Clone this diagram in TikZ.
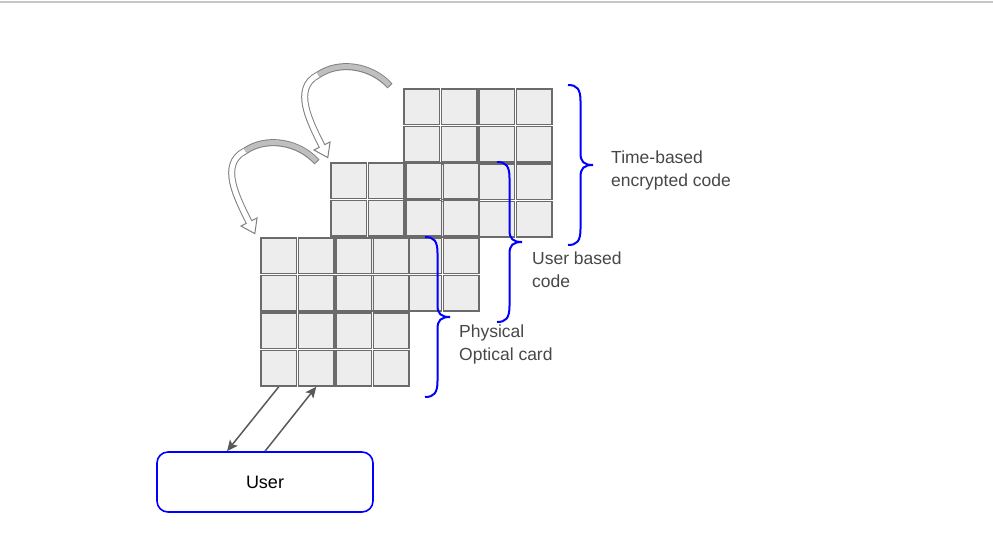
\documentclass[tikz,border=0pt]{standalone}
\usepackage{fontspec}
\setmainfont{Liberation Sans}
\usetikzlibrary{arrows.meta, positioning, calc}

\begin{document}
\begin{tikzpicture}[x=1pt, y=-1pt,
  cell/.style={draw=black!58, line width=1.5pt, fill=black!7, minimum size=35.5pt, inner sep=0pt},
  curly/.style={draw=blue, line width=2pt},
  codetext/.style={align=left, inner sep=0pt, text=black!72, font=\fontsize{17.5}{23}\selectfont},
  userbox/.style={draw=blue, line width=1.6pt, rounded corners=11pt, minimum width=216pt, minimum height=60pt, font=\fontsize{18}{22}\selectfont},
  link/.style={draw=black!65, line width=1.5pt, -{Stealth[length=11pt, width=10pt, inset=2.5pt]}},
  swirl/.style={draw=black!50, line width=7pt},
  swirlin/.style={line width=5pt}]
  \useasboundingbox (0,0) rectangle (993,558);
  \draw[black!22, line width=2pt] (0,1.5) -- (993,1.5);

  % Time-based grid (back)
  \foreach \r in {1,...,4}
    \foreach \c in {1,...,4}
      \node[cell] (t-\r-\c) at ({403+37.5*\c-18.75}, {88+37.5*\r-18.75}) {};

  % User based grid (middle)
  \foreach \r in {1,...,4}
    \foreach \c in {1,...,4}
      \node[cell] (u-\r-\c) at ({330+37.5*\c-18.75}, {162+37.5*\r-18.75}) {};

  % Physical card grid (front)
  \foreach \r in {1,...,4}
    \foreach \c in {1,...,4}
      \node[cell] (p-\r-\c) at ({260+37.5*\c-18.75}, {237+37.5*\r-18.75}) {};

  % Braces
  \foreach \bx/\by in {568/85, 497/162, 425/237}
    \draw[curly, shift={(\bx,\by)}] (0,0) .. controls (9,0) and (12.5,4) .. (12.5,16) -- (12.5,68)
      .. controls (12.5,77) and (16,80) .. (25,80) .. controls (16,80) and (12.5,83) .. (12.5,92)
      -- (12.5,144) .. controls (12.5,156) and (9,160) .. (0,160);

  \node[codetext, anchor=north west] (tb-text) at (611,151) {Time-based\\encrypted code};
  \node[codetext, anchor=north west] (ub-text) at (532,252) {User based\\code};
  \node[codetext, anchor=north west] (pc-text) at (459,325) {Physical\\Optical card};

  % Curved arrows
  \foreach \dx/\dy in {0/0, -73/76} {
    \begin{scope}[shift={(\dx,\dy)}]
      \draw[swirl] (390,86) .. controls (372,66) and (340,60) .. (318,75);
      \draw[swirlin, draw=black!25, shorten <=1pt] (390,86) .. controls (372,66) and (340,60) .. (318,75);
      \draw[black!50, line width=1pt, fill=white] (313.95,150.02) -- (327.8,157.6) -- (330.05,141.98) -- cycle;
      \draw[swirl] (318,75) .. controls (292,88) and (310,122) .. (322,146);
      \draw[swirlin, draw=white, shorten >=-1.2pt] (318,75) .. controls (292,88) and (310,122) .. (322,146);
    \end{scope}
  }

  % User
  \node[userbox] (user) at (265,482) {User};
  \coordinate (userin) at ([xshift=-38pt]user.north);
  \draw[link] (p-4-1.south) -- (userin);
  \draw[link] (user.north) -- (p-4-2.south);

\end{tikzpicture}
\end{document}
